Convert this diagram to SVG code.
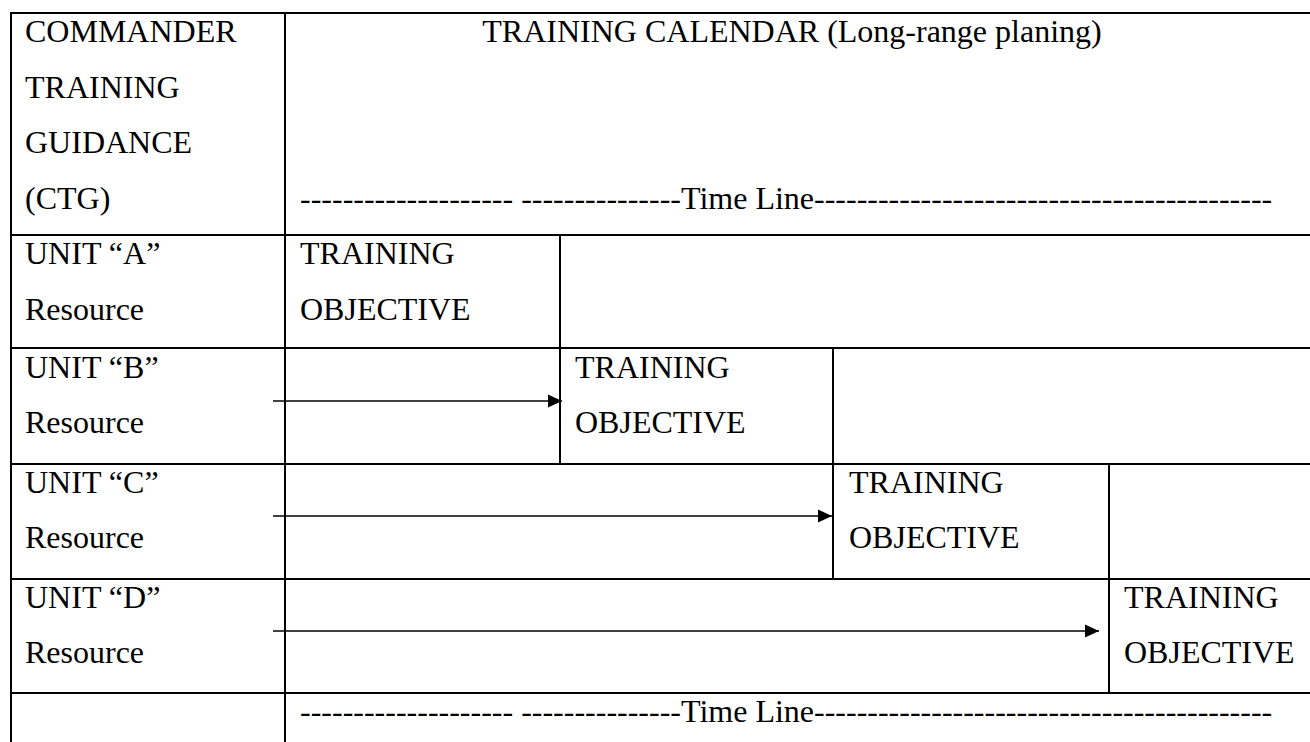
<svg xmlns="http://www.w3.org/2000/svg" width="1310" height="742" viewBox="0 0 1310 742">
<style>
  .t { font-family: "Liberation Serif", "Times New Roman", serif; font-size: 32px; fill: #000; }
  .g { stroke: #000; stroke-width: 2; fill: none; }
  .c { stroke: #000; stroke-width: 1.6; fill: none; }
</style>
<defs>
  <marker id="ah" markerUnits="userSpaceOnUse" markerWidth="15" markerHeight="14" refX="14" refY="7" orient="auto">
    <polygon points="0,0.5 14,7 0,13.5" fill="#000"/>
  </marker>
</defs>
<rect width="1310" height="742" fill="#fff"/>
<g id="grid" class="g">
  <line x1="10" y1="13" x2="1312" y2="13"/>
  <line x1="10" y1="235" x2="1312" y2="235"/>
  <line x1="10" y1="348" x2="1312" y2="348"/>
  <line x1="10" y1="464" x2="1312" y2="464"/>
  <line x1="10" y1="579" x2="1312" y2="579"/>
  <line x1="10" y1="693" x2="1312" y2="693"/>
  <line x1="11" y1="12" x2="11" y2="742"/>
  <line x1="285" y1="12" x2="285" y2="742"/>
  <line x1="560" y1="235" x2="560" y2="464"/>
  <line x1="833" y1="348" x2="833" y2="579"/>
  <line x1="1109" y1="464" x2="1109" y2="693"/>
</g>
<g id="ctg">
  <text class="t" x="25" y="42">COMMANDER</text>
  <text class="t" x="25" y="97.5">TRAINING</text>
  <text class="t" x="25" y="153">GUIDANCE</text>
  <text class="t" x="25" y="208.5">(CTG)</text>
</g>
<g id="calendar">
  <text class="t" x="792" y="42" text-anchor="middle">TRAINING CALENDAR (Long-range planing)</text>
  <text class="t" x="300" y="208.5">-------------------- ---------------Time Line-------------------------------------------</text>
</g>
<g id="unitA">
  <text class="t" x="25" y="264">UNIT “A”</text>
  <text class="t" x="25" y="319.5">Resource</text>
</g>
<g id="objA">
  <text class="t" x="300" y="264">TRAINING</text>
  <text class="t" x="300" y="319.5">OBJECTIVE</text>
</g>
<g id="unitB">
  <text class="t" x="25" y="378">UNIT “B”</text>
  <text class="t" x="25" y="433">Resource</text>
</g>
<g id="objB">
  <text class="t" x="575" y="378">TRAINING</text>
  <text class="t" x="575" y="433">OBJECTIVE</text>
</g>
<g id="unitC">
  <text class="t" x="25" y="493">UNIT “C”</text>
  <text class="t" x="25" y="548">Resource</text>
</g>
<g id="objC">
  <text class="t" x="849" y="493">TRAINING</text>
  <text class="t" x="849" y="548">OBJECTIVE</text>
</g>
<g id="unitD">
  <text class="t" x="25" y="608">UNIT “D”</text>
  <text class="t" x="25" y="663">Resource</text>
</g>
<g id="objD">
  <text class="t" x="1124" y="608">TRAINING</text>
  <text class="t" x="1124" y="663">OBJECTIVE</text>
</g>
<g id="timeline-bottom">
  <text class="t" x="300" y="722">-------------------- ---------------Time Line-------------------------------------------</text>
</g>
<g id="connectors" class="c">
  <line x1="273" y1="401" x2="562" y2="401" marker-end="url(#ah)"/>
  <line x1="273" y1="516" x2="832" y2="516" marker-end="url(#ah)"/>
  <line x1="273" y1="631" x2="1099" y2="631" marker-end="url(#ah)"/>
</g>
</svg>
